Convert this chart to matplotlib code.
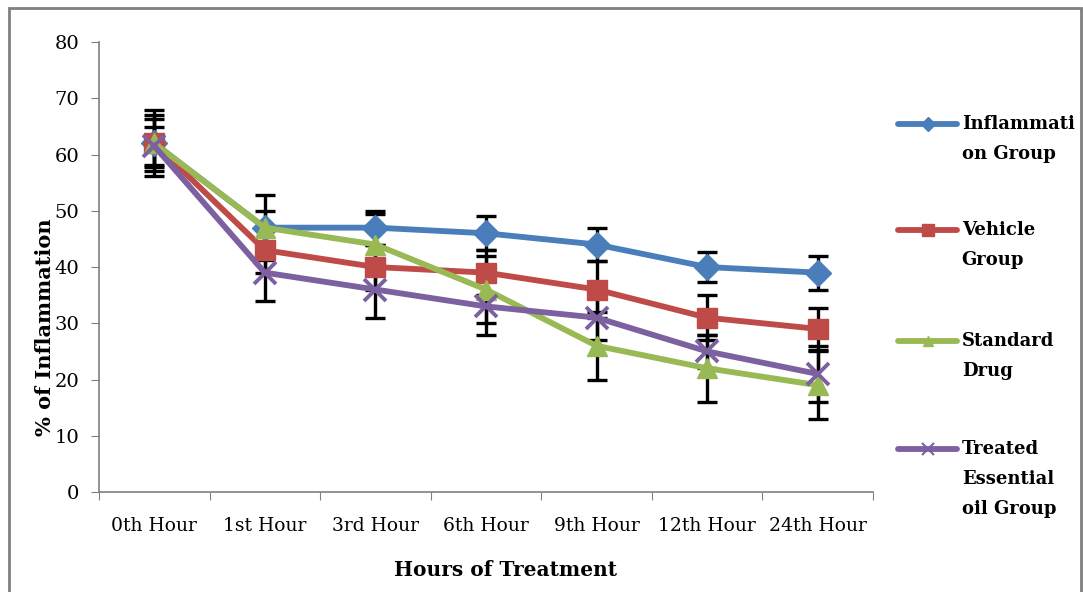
import matplotlib.pyplot as plt
import numpy as np
from matplotlib.lines import Line2D
from matplotlib.patches import Rectangle

# ----------------------------
# 1. Data
# ----------------------------
hours = ['0th Hour', '1st Hour', '3rd Hour', '6th Hour', '9th Hour', '12th Hour', '24th Hour']

inflammation = [62, 47, 47, 46, 44, 40, 39]
vehicle = [62, 43, 40, 39, 36, 31, 29]
standard = [62, 47, 44, 36, 26, 22, 19]
treated = [61.5, 39, 36, 33, 31, 25, 21]

inflammation_err = [5.0, 3.0, 3.0, 3.0, 3.0, 2.7, 3.0]
vehicle_err = [4.3, 4.0, 4.0, 4.0, 5.0, 4.0, 3.8]
standard_err = [5.9, 5.8, 5.5, 6.0, 6.0, 6.0, 6.0]
treated_err = [3.4, 5.0, 5.0, 5.0, 4.0, 3.0, 5.0]

series_labels = ['Inflammati\non Group', 'Vehicle\nGroup', 'Standard\nDrug',
                 'Treated\nEssential\noil Group']

# ----------------------------
# 2. Styles
# ----------------------------
colors = ['#4A7EBB', '#BE4B48', '#98B954', '#7D60A0']
markers = ['D', 's', '^', 'x']
msizes = [13, 15, 14, 16]

plt.rcParams['font.family'] = ['DejaVu Serif']

fig = plt.figure(figsize=(10.83, 5.92), dpi=100)
ax = fig.add_axes([0.0914, 0.1689, 0.7146, 0.7601])

# outer chart border
fig.add_artist(Rectangle((0.008, -0.05), 0.99, 1.036, transform=fig.transFigure,
                         fill=False, edgecolor='#808080', linewidth=2.0))

x = np.arange(len(hours))
all_vals = [inflammation, vehicle, standard, treated]
all_errs = [inflammation_err, vehicle_err, standard_err, treated_err]

# error bars first (drawn beneath lines)
for vals, errs in zip(all_vals, all_errs):
    ax.errorbar(x, vals, yerr=errs, fmt='none', ecolor='black', elinewidth=2.4,
                capsize=7, capthick=2.4, zorder=2)

for vals, c, m, ms in zip(all_vals, colors, markers, msizes):
    ax.plot(x, vals, color=c, linewidth=4.2, marker=m, markersize=ms,
            markeredgecolor=c, markeredgewidth=2.8 if m == 'x' else 1, zorder=3)

# ----------------------------
# 3. Axes formatting
# ----------------------------
ax.set_xlim(-0.5, len(hours) - 0.5)
ax.set_ylim(0, 80)
ax.set_yticks(np.arange(0, 81, 10))
ax.tick_params(axis='y', labelsize=14, length=6, color='#808080', pad=8)

ax.set_xticks(np.arange(-0.5, len(hours), 1.0))
ax.set_xticklabels([])
ax.set_xticks(x, minor=True)
ax.set_xticklabels(hours, minor=True, fontsize=13.5)
ax.tick_params(axis='x', which='major', length=6, color='#808080')
ax.tick_params(axis='x', which='minor', length=0, pad=18)

for side in ['top', 'right']:
    ax.spines[side].set_visible(False)
for side in ['left', 'bottom']:
    ax.spines[side].set_color('#808080')
    ax.spines[side].set_linewidth(1.2)

ax.set_xlabel('Hours of Treatment', fontsize=14.5, fontweight='bold')
ax.xaxis.set_label_coords(0.525, -0.151)
ax.set_ylabel('% of Inflammation', fontsize=15, fontweight='bold')
ax.yaxis.set_label_coords(-0.057, 0.367)

# ----------------------------
# 4. Legend (hand-built, handle on first text line)
# ----------------------------
legend_y = [0.7905, 0.6115, 0.424, 0.2416]
line_step = 30 / 592
for lab, c, m, ms, ly in zip(series_labels, colors, markers, msizes, legend_y):
    fig.add_artist(Line2D([0.829, 0.884], [ly, ly], transform=fig.transFigure,
                          color=c, linewidth=4.2, solid_capstyle='round'))
    fig.add_artist(Line2D([0.8565], [ly], transform=fig.transFigure, color=c,
                          marker=m, markersize=ms * 0.55, markeredgecolor=c,
                          markeredgewidth=1.5 if m == 'x' else 1))
    for i, part in enumerate(lab.split('\n')):
        fig.text(0.888, ly - i * line_step, part, fontsize=13, fontweight='bold',
                 va='center', ha='left')

plt.savefig('out.png', dpi=100)
